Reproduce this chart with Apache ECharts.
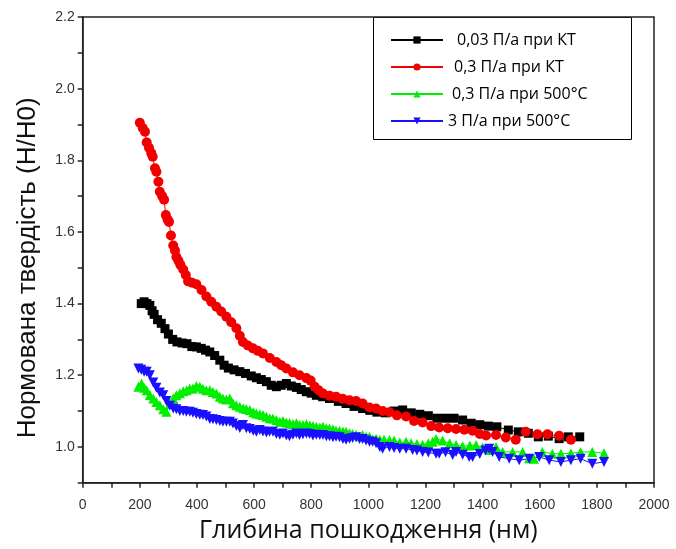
<!DOCTYPE html>
<html>
<head>
<meta charset="utf-8">
<script src="https://cdn.jsdelivr.net/npm/echarts@6/dist/echarts.min.js"></script>
<style>
  html, body { margin: 0; padding: 0; background: #fff; }
  #chart { width: 676px; height: 549px; }
</style>
</head>
<body>
<div id="chart"></div>
<script>
// Series names (legend labels)
const seriesNames = ['0,03 П/а при КТ', '0,3 П/а при КТ', '0,3 П/а при 500°C', '3 П/а при 500°C'];

// Depth (nm) / normalised hardness pairs for each irradiation condition
const dose003RT = [
  [205,1.40],[215,1.405],[225,1.40],[235,1.395],[243,1.38],[250,1.37],[262,1.355],[275,1.345],
  [288,1.33],[300,1.315],[315,1.30],[330,1.293],[348,1.29],[365,1.288],[382,1.28],[398,1.279],
  [415,1.275],[430,1.27],[445,1.265],[462,1.255],[480,1.242],[495,1.228],[510,1.22],[530,1.215],
  [550,1.21],[570,1.205],[590,1.198],[608,1.193],[625,1.188],[643,1.182],[660,1.172],[678,1.168],
  [695,1.172],[713,1.177],[730,1.17],[748,1.166],[765,1.16],[783,1.154],[800,1.15],[818,1.144],
  [840,1.14],[864,1.135],[895,1.127],[922,1.121],[950,1.113],[980,1.107],[1005,1.102],[1030,1.097],
  [1060,1.095],[1090,1.10],[1120,1.103],[1150,1.095],[1180,1.091],[1210,1.087],[1240,1.08],
  [1270,1.08],[1300,1.08],[1330,1.075],[1360,1.066],[1390,1.062],[1420,1.058],[1450,1.056],
  [1490,1.047],[1525,1.042],[1560,1.038],[1595,1.028],[1630,1.03],[1668,1.023],[1700,1.028],[1740,1.028]
];

const dose03RT = [
  [200,1.905],[210,1.89],[218,1.88],[224,1.85],[232,1.835],[240,1.82],[245,1.81],[253,1.778],
  [258,1.768],[265,1.74],[270,1.712],[278,1.70],[285,1.69],[291,1.647],[297,1.635],[302,1.628],
  [309,1.59],[317,1.562],[323,1.548],[328,1.53],[335,1.52],[342,1.508],[352,1.495],[361,1.48],
  [369,1.462],[383,1.458],[398,1.454],[416,1.438],[433,1.42],[450,1.405],[468,1.391],[485,1.378],
  [503,1.363],[520,1.348],[538,1.331],[550,1.31],[561,1.293],[578,1.283],[596,1.275],[613,1.268],
  [631,1.261],[655,1.248],[678,1.237],[695,1.228],[713,1.219],[736,1.208],[759,1.20],[783,1.192],
  [798,1.185],[812,1.168],[826,1.158],[841,1.149],[864,1.143],[887,1.14],[910,1.134],[934,1.13],
  [957,1.128],[980,1.121],[1004,1.11],[1027,1.107],[1050,1.10],[1074,1.097],[1100,1.088],
  [1132,1.085],[1160,1.072],[1190,1.068],[1220,1.058],[1248,1.054],[1278,1.052],[1307,1.05],
  [1336,1.048],[1365,1.045],[1390,1.036],[1412,1.032],[1447,1.033],[1481,1.026],[1516,1.02],
  [1551,1.042],[1592,1.035],[1627,1.035],[1668,1.031],[1709,1.02]
];

const dose03HT = [
  [195,1.168],[206,1.177],[215,1.165],[224,1.158],[235,1.145],[247,1.135],[258,1.125],[270,1.116],
  [282,1.105],[293,1.098],[305,1.12],[317,1.135],[328,1.144],[340,1.15],[352,1.155],[364,1.158],
  [375,1.163],[386,1.163],[398,1.17],[410,1.168],[421,1.162],[433,1.158],[445,1.158],[456,1.153],
  [468,1.149],[480,1.14],[491,1.135],[503,1.132],[515,1.135],[526,1.122],[538,1.116],[550,1.112],
  [562,1.108],[573,1.106],[585,1.103],[597,1.097],[608,1.093],[620,1.091],[631,1.089],[643,1.084],
  [655,1.08],[666,1.079],[678,1.075],[690,1.07],[701,1.072],[713,1.068],[724,1.067],[736,1.064],
  [748,1.066],[759,1.062],[771,1.061],[783,1.063],[795,1.06],[806,1.058],[818,1.056],[830,1.054],
  [841,1.056],[853,1.052],[864,1.051],[876,1.049],[887,1.046],[899,1.045],[911,1.043],[922,1.042],
  [934,1.038],[945,1.036],[957,1.034],[969,1.03],[980,1.033],[992,1.028],[1004,1.028],[1015,1.021],
  [1027,1.023],[1040,1.02],[1055,1.02],[1074,1.019],[1090,1.018],[1110,1.012],[1132,1.014],
  [1150,1.01],[1170,1.008],[1190,1.006],[1210,1.01],[1225,1.014],[1237,1.022],[1260,1.018],
  [1285,1.01],[1307,1.005],[1330,1.002],[1355,1.004],[1377,1.005],[1400,0.998],[1423,0.991],
  [1447,1.0],[1470,0.986],[1505,0.986],[1540,0.986],[1563,0.968],[1580,0.967],[1609,0.986],
  [1644,0.981],[1674,0.981],[1709,0.982],[1743,0.986],[1784,0.986],[1825,0.982]
];

const dose3HT = [
  [195,1.219],[205,1.215],[215,1.21],[224,1.21],[235,1.2],[247,1.18],[258,1.165],[270,1.152],
  [282,1.144],[293,1.128],[305,1.115],[317,1.107],[328,1.105],[340,1.1],[352,1.1],[363,1.098],
  [375,1.098],[386,1.095],[398,1.092],[410,1.09],[421,1.089],[433,1.085],[445,1.078],[456,1.077],
  [468,1.075],[480,1.072],[491,1.07],[503,1.07],[515,1.07],[526,1.065],[538,1.058],[550,1.053],
  [561,1.061],[573,1.052],[585,1.05],[597,1.045],[608,1.042],[620,1.047],[631,1.043],[643,1.04],
  [654,1.042],[666,1.042],[678,1.036],[690,1.034],[701,1.037],[713,1.032],[724,1.03],[736,1.034],
  [748,1.037],[759,1.033],[771,1.035],[783,1.037],[794,1.036],[806,1.032],[818,1.034],[830,1.033],
  [841,1.033],[853,1.03],[864,1.03],[876,1.027],[887,1.028],[899,1.027],[911,1.022],[922,1.02],
  [934,1.023],[945,1.025],[957,1.027],[969,1.022],[980,1.022],[992,1.018],[1004,1.014],[1015,1.014],
  [1027,1.01],[1040,1.0],[1050,0.995],[1074,1.0],[1090,0.997],[1110,0.995],[1132,0.995],
  [1155,0.991],[1170,0.99],[1190,0.986],[1210,0.984],[1237,0.981],[1248,0.981],[1270,0.985],
  [1295,0.977],[1307,0.986],[1330,0.978],[1353,0.972],[1365,0.972],[1390,0.98],[1410,0.99],
  [1423,0.995],[1435,0.986],[1458,0.972],[1493,0.967],[1528,0.963],[1563,0.967],[1598,0.972],
  [1633,0.963],[1674,0.958],[1709,0.963],[1743,0.967],[1784,0.953],[1825,0.958]
];

// Axis ranges and tick steps
const xMin = 0, xMax = 2000, xTickStep = 100;
const yMin = 0.9, yMax = 2.2, yTickStep = 0.1;

const axisColor = '#222';
const labelFont = { fontFamily: 'Liberation Sans', fontSize: 14, color: '#333' };

function makeSeries(name, data, color, symbol, size, rotate) {
  return {
    name, type: 'line', data,
    symbol, symbolSize: size, symbolRotate: rotate || 0,
    itemStyle: { color },
    lineStyle: { color, width: 1 },
    emphasis: { disabled: true },
    animation: false
  };
}

const chart = echarts.init(document.getElementById('chart'), null, { renderer: 'canvas' });

chart.setOption({
  backgroundColor: '#fff',
  animation: false,
  grid: {
    left: 82.7, right: 22, top: 17, bottom: 66.3,
    show: true, borderColor: axisColor, borderWidth: 1.5, backgroundColor: 'transparent'
  },
  legend: {
    orient: 'vertical',
    left: 390, top: 32,
    padding: 0,
    itemWidth: 52, itemHeight: 9, itemGap: 11,
    textStyle: { fontFamily: 'Open Sans', fontSize: 16, color: '#000' },
    data: [
      { name: seriesNames[0], textStyle: { padding: [0, 0, 0, 9] } },
      { name: seriesNames[1], textStyle: { padding: [0, 0, 0, 6] } },
      { name: seriesNames[2], textStyle: { padding: [0, 0, 0, 4] } },
      { name: seriesNames[3], textStyle: { padding: [0, 0, 0, 0] } }
    ]
  },
  graphic: [{
    type: 'rect', z: -1,
    shape: { x: 373.5, y: 17.5, width: 258, height: 122 },
    style: { fill: '#fff', stroke: '#000', lineWidth: 1 }
  }],
  xAxis: {
    type: 'value', min: xMin, max: xMax, interval: xTickStep,
    name: 'Глибина пошкодження (нм)',
    nameLocation: 'middle', nameGap: 36,
    nameTextStyle: { fontFamily: 'Open Sans', fontSize: 25, color: '#111' },
    axisLine: { show: true, lineStyle: { color: axisColor, width: 1.5 } },
    axisTick: { show: true, inside: false, length: 5, lineStyle: { color: axisColor, width: 1.5 } },
    axisLabel: Object.assign({}, labelFont, {
      margin: 15,
      formatter: v => (Math.round(v) % 200 === 0 ? String(Math.round(v)) : '')
    }),
    splitLine: { show: false }
  },
  yAxis: {
    type: 'value', min: yMin, max: yMax, interval: yTickStep,
    name: 'Нормована твердість (H/H0)',
    nameLocation: 'middle', nameGap: 42,
    nameTextStyle: { fontFamily: 'Liberation Sans', fontSize: 26, color: '#111', padding: [0, 36, 0, 0] },
    axisLine: { show: true, lineStyle: { color: axisColor, width: 1.5 } },
    axisTick: { show: true, inside: false, length: 5, lineStyle: { color: axisColor, width: 1.5 } },
    axisLabel: Object.assign({}, labelFont, {
      margin: 8,
      formatter: v => {
        const t = Math.round(v * 10);
        return (t % 2 === 0 && t >= 10) ? (t / 10).toFixed(1) : '';
      }
    }),
    splitLine: { show: false }
  },
  series: [
    makeSeries(seriesNames[0], dose003RT, '#000000', 'rect', 9),
    makeSeries(seriesNames[1], dose03RT, '#f20000', 'circle', 10),
    makeSeries(seriesNames[2], dose03HT, '#00ee00', 'triangle', 10),
    makeSeries(seriesNames[3], dose3HT, '#1a10ff', 'triangle', 10, 180)
  ]
});
</script>
</body>
</html>
